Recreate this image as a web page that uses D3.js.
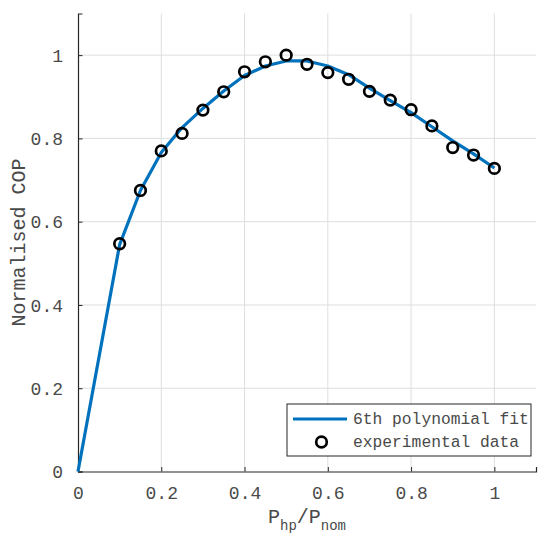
<!DOCTYPE html>
<html>
<head>
<meta charset="utf-8">
<script src="https://cdn.jsdelivr.net/npm/d3@7"></script>
<style>
  body { margin: 0; background: #fff; }
  text { font-family: "Liberation Mono", "Courier New", monospace; fill: #4a4a4a; }
</style>
</head>
<body>
<svg id="mySvg" width="547" height="550"></svg>
<script>
// Data
const fitX = [0, 0.1, 0.15, 0.2, 0.25, 0.3, 0.35, 0.4, 0.45, 0.5, 0.55, 0.6, 0.65, 0.7, 0.75, 0.8, 0.85, 0.9, 0.95, 1.0];
const fitY = [0, 0.545, 0.675, 0.766, 0.826, 0.872, 0.914, 0.951, 0.974, 0.986, 0.986, 0.974, 0.953, 0.921, 0.891, 0.862, 0.828, 0.794, 0.763, 0.729];
const expX = [0.1, 0.15, 0.2, 0.25, 0.3, 0.35, 0.4, 0.45, 0.5, 0.55, 0.6, 0.65, 0.7, 0.75, 0.8, 0.85, 0.9, 0.95, 1.0];
const expY = [0.547, 0.675, 0.770, 0.812, 0.868, 0.912, 0.960, 0.984, 1.000, 0.978, 0.958, 0.942, 0.913, 0.892, 0.869, 0.830, 0.778, 0.760, 0.728];
const xTicks = [0, 0.2, 0.4, 0.6, 0.8, 1];
const yTicks = [0, 0.2, 0.4, 0.6, 0.8, 1];
const legendLabels = ["6th polynomial fit", "experimental data"];

const svg = d3.select("#mySvg");
svg.selectAll("*").remove();

const margin = { top: 13.5, right: 11, bottom: 78.5, left: 78 };
const width = 547 - margin.left - margin.right;
const height = 550 - margin.top - margin.bottom;

const x = d3.scaleLinear().domain([0, 1.1]).range([0, width]);
const y = d3.scaleLinear().domain([0, 1.1]).range([height, 0]);

const g = svg.append("g").attr("transform", `translate(${margin.left},${margin.top})`);

// grid
g.selectAll(".vgrid").data(xTicks.filter(d => d > 0)).enter().append("line")
  .attr("x1", d => x(d)).attr("x2", d => x(d))
  .attr("y1", 0).attr("y2", height)
  .attr("stroke", "#dedede").attr("stroke-width", 1);
g.selectAll(".hgrid").data(yTicks.filter(d => d > 0)).enter().append("line")
  .attr("x1", 0).attr("x2", width)
  .attr("y1", d => y(d)).attr("y2", d => y(d))
  .attr("stroke", "#dedede").attr("stroke-width", 1);

// axes (ticks point inward)
const fmt = d => d === 0 || d === 1 ? d3.format("d")(d) : d3.format(".1f")(d);
const xAxis = g.append("g").attr("transform", `translate(0,${height})`)
  .call(d3.axisBottom(x).tickValues(xTicks).tickSize(-4.5).tickPadding(15).tickFormat(fmt));
const yAxis = g.append("g")
  .call(d3.axisLeft(y).tickValues(yTicks).tickSize(-4.5).tickPadding(15).tickFormat(fmt));

[xAxis, yAxis].forEach(a => {
  a.select(".domain").attr("stroke", "#262626").attr("stroke-width", 1.2);
  a.selectAll(".tick line").attr("stroke", "#262626");
  a.selectAll(".tick text").attr("font-size", "18px");
});
yAxis.selectAll(".tick text").attr("dy", "0.35em");

// fit line
const line = d3.line().x((d, i) => x(fitX[i])).y(d => y(d));
g.append("path")
  .datum(fitY)
  .attr("d", line)
  .attr("fill", "none")
  .attr("stroke", "#0072BD")
  .attr("stroke-width", 3.2)
  .attr("stroke-linejoin", "round");

// experimental points
g.selectAll(".pt").data(expY).enter().append("circle")
  .attr("cx", (d, i) => x(expX[i]))
  .attr("cy", d => y(d))
  .attr("r", 5.3)
  .attr("fill", "none")
  .attr("stroke", "#000")
  .attr("stroke-width", 2.7);

// axis labels
svg.append("text")
  .attr("transform", `translate(25,${margin.top + height / 2}) rotate(-90)`)
  .attr("text-anchor", "middle")
  .attr("font-size", "20px")
  .text("Normalised COP");

const xl = svg.append("text")
  .attr("x", margin.left + width / 2)
  .attr("y", 523)
  .attr("text-anchor", "middle")
  .attr("font-size", "20px");
xl.append("tspan").text("P");
xl.append("tspan").attr("font-size", "14px").attr("dy", 7).text("hp");
xl.append("tspan").attr("dy", -7).text("/P");
xl.append("tspan").attr("font-size", "14px").attr("dy", 7).text("nom");

// legend
const lg = svg.append("g");
lg.append("rect")
  .attr("x", 287).attr("y", 404)
  .attr("width", 244).attr("height", 52)
  .attr("fill", "#fff").attr("stroke", "#262626").attr("stroke-width", 1);
lg.append("line")
  .attr("x1", 293).attr("x2", 347).attr("y1", 419).attr("y2", 419)
  .attr("stroke", "#0072BD").attr("stroke-width", 3.2);
lg.append("circle")
  .attr("cx", 321.5).attr("cy", 442).attr("r", 5.3)
  .attr("fill", "none").attr("stroke", "#000").attr("stroke-width", 2.7);
lg.selectAll(".lt").data(legendLabels).enter().append("text")
  .attr("x", 353)
  .attr("y", (d, i) => 424 + i * 22.5)
  .attr("font-size", "16.3px")
  .text(d => d);
</script>
</body>
</html>
